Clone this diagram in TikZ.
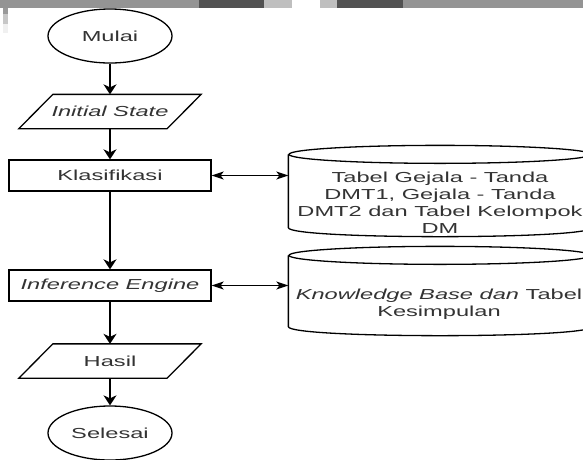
\documentclass[tikz,border=0pt]{standalone}
\usepackage{fontspec}
\setmainfont{Liberation Sans}[FakeStretch=1.63]
\usetikzlibrary{shapes.geometric, arrows.meta}

\begin{document}
\begin{tikzpicture}[x=1pt, y=-1pt, line width=1.3pt, font=\fontsize{14.5}{17}\selectfont,
        every node/.style={text=black!80},
        flowline/.style={-{Stealth[length=10pt, width=13pt, inset=3pt]}, line width=1.6pt},
        linkline/.style={{Stealth[length=12pt, width=8pt, inset=3pt]}-{Stealth[length=12pt, width=8pt, inset=3pt]}},
        terminal/.style={draw, ellipse, minimum width=124pt, minimum height=54pt, inner sep=0pt},
        process/.style={draw, rectangle, minimum width=202pt, minimum height=31pt, inner sep=0pt},
        iobox/.style={minimum width=147pt, minimum height=33pt, inner sep=0pt},
        dbbox/.style={minimum width=302pt, inner sep=0pt}]
        \useasboundingbox (0,0) rectangle (583,459);
        % screenshot strip
        \fill[black!42] (0,0) rectangle (583,8);
        \fill[black!68] (199,0) rectangle (403,8);
        \fill[black!25] (264,0) rectangle (337,8);
        \fill[white] (292,0) rectangle (320,8);
        \fill[black!40] (3,8) rectangle (8,14);
        \fill[black!22] (3,14) rectangle (8,24);
        \fill[black!6] (3,24) rectangle (8,33);

        \node[terminal] (mulai) at (110,36) {Mulai};
        \node[iobox] (init) at (110,111.5) {\itshape Initial State};
        \node[process] (klas) at (110,175.5) {Klasifikasi};
        \node[process] (infer) at (110,285.5) {\itshape Inference Engine};
        \node[iobox] (hasil) at (110,361) {Hasil};
        \node[terminal] (selesai) at (110,433) {Selesai};
        \foreach \n in {init, hasil}
            \draw ([xshift=-17pt]\n.south west) -- ([xshift=-17pt]\n.south east) -- ([xshift=17pt]\n.north east) -- ([xshift=17pt]\n.north west) -- cycle;

        \node[dbbox, minimum height=72pt] (tabel) at (440,191) {};
        \node[dbbox, minimum height=70pt] (kb) at (440,291) {};
        \foreach \n in {tabel, kb} {
            \draw (\n.north west) -- (\n.south west) .. controls +(0,12) and +(0,12) .. (\n.south east) -- (\n.north east);
            \draw (\n.north) ellipse [x radius=151, y radius=9];
        }
        \node[align=center] (tabeltext) at (440,203) {Tabel Gejala - Tanda\\DMT1, Gejala - Tanda\\DMT2 dan Tabel Kelompok\\DM};
        \node[align=center] (kbtext) at (439,304) {{\itshape Knowledge Base dan} Tabel\\Kesimpulan};

        \draw[flowline] (mulai) -- (init);
        \draw[flowline] (init) -- (klas);
        \draw[flowline] (klas) -- (infer);
        \draw[flowline] (infer) -- (hasil);
        \draw[flowline] (hasil) -- (selesai);
        \draw[linkline] (klas.east) -- (klas.east -| tabel.west);
        \draw[linkline] (infer.east) -- (infer.east -| kb.west);
    \end{tikzpicture}
\end{document}
